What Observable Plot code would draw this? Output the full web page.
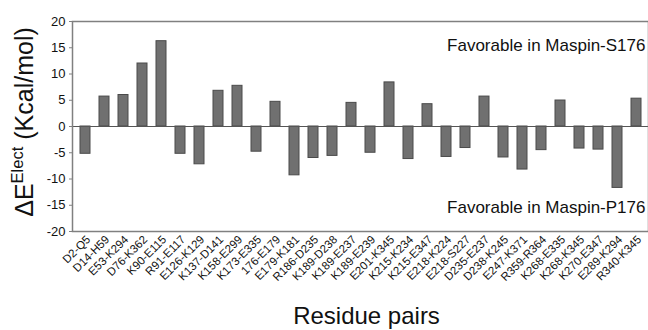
<!DOCTYPE html>
<html>
<head>
<meta charset="utf-8">
<script src="https://cdn.jsdelivr.net/npm/d3@7"></script>
<script src="https://cdn.jsdelivr.net/npm/@observablehq/plot@0.6"></script>
<style>
  html, body { margin: 0; padding: 0; background: #fff; }
  #chart { width: 648px; height: 330px; }
  svg { font-family: "Liberation Sans", Arial, Helvetica, sans-serif; }
</style>
</head>
<body>
<div id="chart"></div>
<script>
const pairs = ["D2-Q5","D14-H59","E53-K294","D76-K362","K90-E115","R91-E117","E126-K129","K137-D141","K158-E299","K173-E335","176-E179","E179-K181","R186-D235","K189-D238","K189-E237","K189-E239","E201-K345","K215-K234","K215-E347","E218-K224","E218-S227","D235-E237","D238-K245","E247-K371","R359-R364","K268-E335","K268-K345","K270-E347","E289-K294","R340-K345"];
const values = [-5.2, 5.7, 6.0, 12.0, 16.25, -5.2, -7.2, 6.8, 7.75, -4.8, 4.7, -9.3, -6.0, -5.6, 4.5, -5.0, 8.4, -6.2, 4.25, -5.8, -4.1, 5.7, -5.9, -8.2, -4.5, 4.95, -4.2, -4.4, -11.7, 5.3];
const yTicks = [-20, -15, -10, -5, 0, 5, 10, 15, 20];
const annotations = [
  {y: 15.4, text: "Favorable in Maspin-S176"},
  {y: -15.4, text: "Favorable in Maspin-P176"}
];
const xTitle = "Residue pairs";

const data = pairs.map((p, i) => ({pair: p, value: values[i]}));

const chart = Plot.plot({
  width: 648,
  height: 330,
  marginLeft: 72,
  marginRight: 0,
  marginTop: 21,
  marginBottom: 99,
  style: {fontFamily: "Liberation Sans, Arial, sans-serif", background: "#fff"},
  x: {domain: pairs, padding: 0.48, paddingOuter: 0, label: null},
  y: {domain: [-20, 20], label: null},
  marks: [
    Plot.barY(data, {x: "pair", y: "value", fill: "#707070", stroke: "#4a4a4a", strokeWidth: 1}),
    Plot.ruleY([0], {stroke: "#555", strokeWidth: 1.2}),
    Plot.frame({stroke: "#808080", strokeWidth: 1.5}),
    Plot.axisY({ticks: yTicks, tickSize: 3, tickPadding: 4, fontSize: 13, tickFormat: d => String(d), label: null, stroke: "#808080", color: "#111"}),
    Plot.axisX({tickRotate: -45, tickSize: 0, tickPadding: 6, fontSize: 11.5, label: null, color: "#111", dx: 3}),
    Plot.text(annotations, {y: "y", text: "text", frameAnchor: "right", textAnchor: "end", dx: -3, fontSize: 17, fill: "#111"}),
    Plot.text([xTitle], {frameAnchor: "bottom", dy: 85, dx: 6, fontSize: 24, fill: "#111", lineAnchor: "middle"})
  ]
});

const svg = d3.select(chart);
const t = svg.append("text")
  .attr("transform", "translate(33,122) rotate(-90)")
  .attr("text-anchor", "middle")
  .attr("font-family", "Liberation Sans, Arial, sans-serif")
  .attr("font-size", 25)
  .attr("fill", "#111");
t.append("tspan").text("ΔE");
t.append("tspan").attr("font-size", 16.5).attr("dy", -10).text("Elect");
t.append("tspan").attr("dy", 10).text(" (Kcal/mol)");

document.getElementById("chart").appendChild(chart);
</script>
</body>
</html>
